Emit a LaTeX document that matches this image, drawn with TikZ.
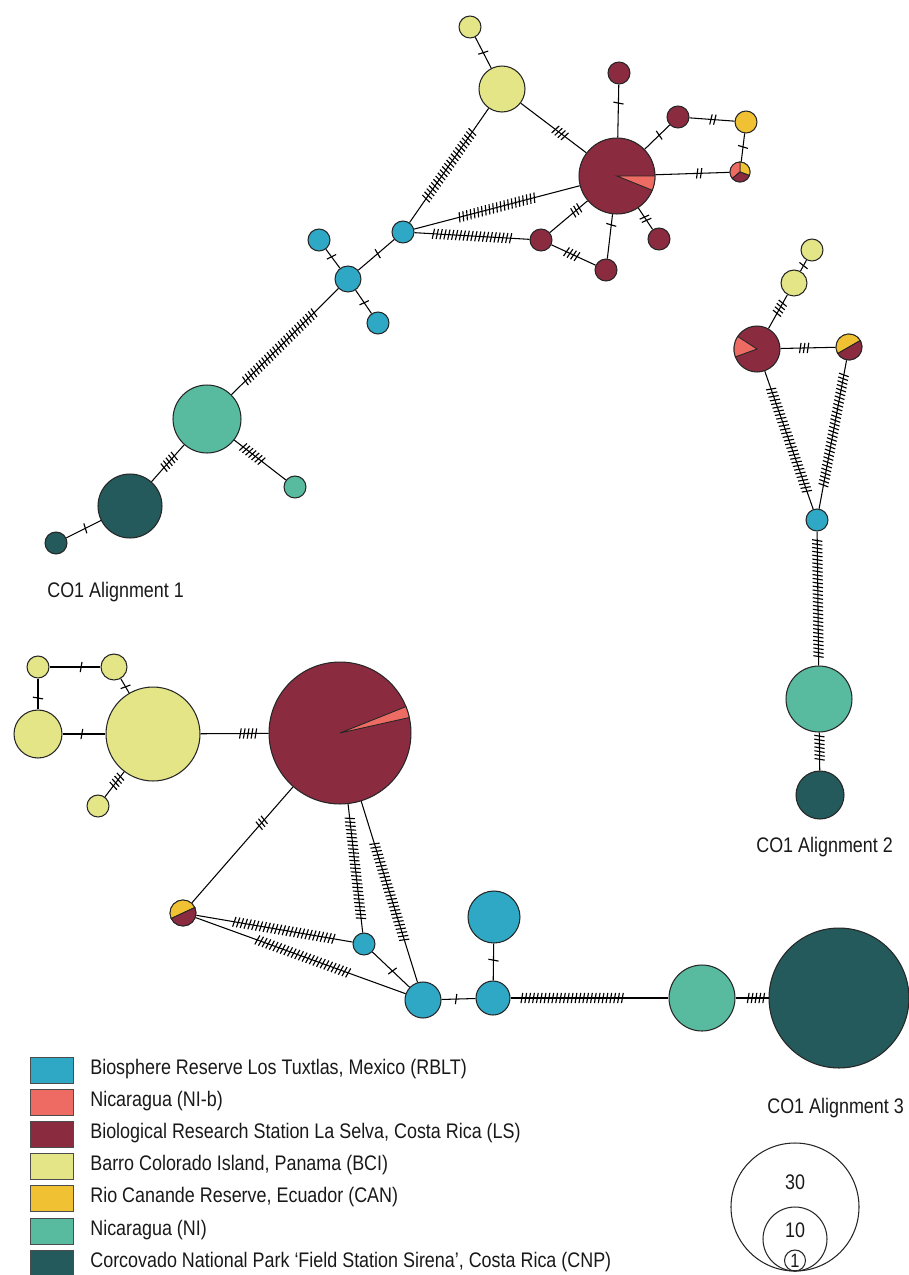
\documentclass[tikz,border=0pt]{standalone}
\usepackage{fontspec}
\setmainfont{Liberation Sans}[FakeStretch=0.85]
\usetikzlibrary{decorations.markings}

\definecolor{rblt}{HTML}{2EA8C4}
\definecolor{nib}{HTML}{EE6B63}
\definecolor{ls}{HTML}{8A2B3F}
\definecolor{bci}{HTML}{E3E587}
\definecolor{can}{HTML}{F0C233}
\definecolor{ni}{HTML}{58BBA0}
\definecolor{cnp}{HTML}{245A5B}

\tikzset{
  hap/.style={circle,draw=black!85,line width=0.6pt,inner sep=0pt,minimum size=#1*0.04cm},
  link/.style={line width=0.6pt},
  mut/.style 2 args={postaction={decorate,decoration={markings,
      mark=at position #2 with {\foreach \k in {1,...,#1}
        \draw[line width=0.65pt] ({(\k-(#1+1)/2)*2.2pt-0.5pt},-2.9pt) -- ++(1pt,5.8pt);}}}},
  tag/.style={font=\fontsize{12}{14}\selectfont,text=black!90,inner sep=0pt,anchor=base west},
  key/.style={draw=black!70,line width=0.5pt,minimum width=0.86cm,minimum height=0.52cm,inner sep=0pt},
}

\newcommand{\hapwedge}[5]{%
  \filldraw[fill=#5,draw=black!85,line width=0.5pt] (#1.center) -- +(#3:#2) arc[start angle=#3,end angle=#4,radius=#2] -- cycle;}

\begin{document}
\begin{tikzpicture}[x=0.02cm,y=0.02cm]
	\useasboundingbox (0,0) rectangle (909,-1275);
	%% CO1 alignment 1
	\node[hap=11,fill=bci] (a1bcit) at (470,-27) {};
	\node[hap=23,fill=bci] (a1bci) at (502,-89) {};
	\node[hap=38,fill=ls] (a1ls) at (617,-176) {};
	\node[hap=11,fill=ls] (a1lst) at (619,-73) {};
	\node[hap=11,fill=ls] (a1lsr) at (678,-117) {};
	\node[hap=11,fill=can] (a1can) at (746,-122) {};
	\node[hap=10,fill=ls] (a1mix) at (740,-172) {};
	\node[hap=11,fill=ls] (a1lsl) at (541,-240) {};
	\node[hap=11,fill=ls] (a1lsb) at (606,-270) {};
	\node[hap=11,fill=ls] (a1lsd) at (659,-239) {};
	\node[hap=11,fill=rblt] (a1rblt) at (403,-232) {};
	\node[hap=11,fill=rblt] (a1rbltl) at (319,-240) {};
	\node[hap=13,fill=rblt] (a1rbltm) at (348,-279) {};
	\node[hap=11,fill=rblt] (a1rbltb) at (378,-323) {};
	\node[hap=34,fill=ni] (a1ni) at (207,-419) {};
	\node[hap=11,fill=ni] (a1nis) at (295,-487) {};
	\node[hap=32,fill=cnp] (a1cnp) at (130,-506) {};
	\node[hap=11,fill=cnp] (a1cnps) at (56,-543) {};
	\hapwedge{a1ls}{38}{-22}{0}{nib}
	\hapwedge{a1mix}{10}{-20}{90}{can}
	\hapwedge{a1mix}{10}{90}{220}{nib}
	\hapwedge{a1mix}{10}{220}{340}{ls}
	%%
	\draw[link,mut={1}{0.5}] (a1bcit) -- (a1bci);
	\draw[link,mut={4}{0.6}] (a1bci) -- (a1ls);
	\draw[link,mut={22}{0.5}] (a1bci) -- (a1rblt);
	\draw[link,mut={21}{0.5}] (a1rblt) -- (a1ls);
	\draw[link,mut={21}{0.5}] (a1rblt) -- (a1lsl);
	\draw[link,mut={1}{0.35}] (a1lst) -- (a1ls);
	\draw[link,mut={1}{0.58}] (a1ls) -- (a1lsr);
	\draw[link,mut={2}{0.52}] (a1lsr) -- (a1can);
	\draw[link,mut={1}{0.48}] (a1can) -- (a1mix);
	\draw[link,mut={2}{0.59}] (a1ls) -- (a1mix);
	\draw[link,mut={3}{0.3}] (a1ls) -- (a1lsl);
	\draw[link,mut={4}{0.46}] (a1lsl) -- (a1lsb);
	\draw[link,mut={1}{0.24}] (a1ls) -- (a1lsb);
	\draw[link,mut={2}{0.5}] (a1ls) -- (a1lsd);
	\draw[link,mut={1}{0.54}] (a1rbltm) -- (a1rblt);
	\draw[link,mut={1}{0.4}] (a1rbltl) -- (a1rbltm);
	\draw[link,mut={1}{0.54}] (a1rbltm) -- (a1rbltb);
	\draw[link,mut={26}{0.55}] (a1rbltm) -- (a1ni);
	\draw[link,mut={7}{0.35}] (a1ni) -- (a1nis);
	\draw[link,mut={5}{0.46}] (a1ni) -- (a1cnp);
	\draw[link,mut={1}{0.45}] (a1cnp) -- (a1cnps);
	\node[tag] (a1lab) at (47,-597) {CO1 Alignment 1};
	%% CO1 alignment 2
	\node[hap=11,fill=bci] (a2bcit) at (812,-250) {};
	\node[hap=13,fill=bci] (a2bci) at (794,-283) {};
	\node[hap=23,fill=ls] (a2ls) at (757,-349) {};
	\node[hap=13,fill=ls] (a2mix) at (849,-347) {};
	\node[hap=11,fill=rblt] (a2rblt) at (817,-520) {};
	\node[hap=33,fill=ni] (a2ni) at (819,-699) {};
	\node[hap=24,fill=cnp] (a2cnp) at (820,-795) {};
	\hapwedge{a2ls}{23}{147}{200}{nib}
	\hapwedge{a2mix}{13}{30}{210}{can}
	\hapwedge{a2mix}{13}{210}{390}{ls}
	%%
	\draw[link,mut={1}{0.5}] (a2bcit) -- (a2bci);
	\draw[link,mut={4}{0.4}] (a2bci) -- (a2ls);
	\draw[link,mut={3}{0.43}] (a2ls) -- (a2mix);
	\draw[link,mut={29}{0.5}] (a2ls) -- (a2rblt);
	\draw[link,mut={30}{0.47}] (a2mix) -- (a2rblt);
	\draw[link,mut={31}{0.5}] (a2rblt) -- (a2ni);
	\draw[link,mut={7}{0.4}] (a2ni) -- (a2cnp);
	\node[tag] (a2lab) at (756,-852) {CO1 Alignment 2};
	%% CO1 alignment 3
	\node[hap=11,fill=bci] (a3bcia) at (38,-667) {};
	\node[hap=13,fill=bci] (a3bcib) at (114,-667) {};
	\node[hap=24,fill=bci] (a3bcic) at (38,-734) {};
	\node[hap=47,fill=bci] (a3bci) at (153,-734) {};
	\node[hap=11,fill=bci] (a3bcis) at (98,-806) {};
	\node[hap=71,fill=ls] (a3ls) at (340,-733) {};
	\node[hap=13,fill=ls] (a3mix) at (183,-913) {};
	\node[hap=11,fill=rblt] (a3rblts) at (364,-944) {};
	\node[hap=18,fill=rblt] (a3rblt) at (423,-1000) {};
	\node[hap=17,fill=rblt] (a3rbltr) at (493,-998) {};
	\node[hap=26,fill=rblt] (a3rbltt) at (494,-917) {};
	\node[hap=33,fill=ni] (a3ni) at (702,-998) {};
	\node[hap=70,fill=cnp] (a3cnp) at (839,-998) {};
	\hapwedge{a3ls}{71}{12.6}{21.8}{nib}
	\hapwedge{a3mix}{13}{25}{205}{can}
	\hapwedge{a3mix}{13}{205}{385}{ls}
	%%
	\draw[link,mut={1}{0.62}] (a3bcia) -- (a3bcib);
	\draw[link,mut={1}{0.63}] (a3bcia) -- (a3bcic);
	\draw[link,mut={1}{0.57}] (a3bcib) -- (a3bci);
	\draw[link,mut={1}{0.45}] (a3bcic) -- (a3bci);
	\draw[link,mut={4}{0.38}] (a3bci) -- (a3bcis);
	\draw[link,mut={5}{0.7}] (a3bci) -- (a3ls);
	\draw[link,mut={3}{0.31}] (a3ls) -- (a3mix);
	\draw[link,mut={27}{0.5}] (a3ls) -- (a3rblts);
	\draw[link,mut={27}{0.5}] (a3ls) -- (a3rblt);
	\draw[link,mut={27}{0.56}] (a3mix) -- (a3rblts);
	\draw[link,mut={26}{0.51}] (a3mix) -- (a3rblt);
	\draw[link,mut={1}{0.54}] (a3rblts) -- (a3rblt);
	\draw[link,mut={1}{0.43}] (a3rblt) -- (a3rbltr);
	\draw[link,mut={1}{0.55}] (a3rbltr) -- (a3rbltt);
	\draw[link,mut={27}{0.39}] (a3rbltr) -- (a3ni);
	\draw[link,mut={5}{0.62}] (a3ni) -- (a3cnp);
	\node[tag] (a3lab) at (767,-1113) {CO1 Alignment 3};
	%% size scale
	\node[circle,draw=black!85,line width=0.6pt,inner sep=0pt,minimum size=128*0.02cm] (sc30) at (795,-1207) {};
	\node[circle,draw=black!85,line width=0.6pt,inner sep=0pt,minimum size=64*0.02cm] (sc10) at (795,-1239) {};
	\node[circle,draw=black!85,line width=0.6pt,inner sep=0pt,minimum size=21*0.02cm] (sc1) at (795,-1260.5) {};
	\node[tag,anchor=center] (sc30lab) at (795,-1182) {30};
	\node[tag,anchor=center] (sc10lab) at (795,-1230) {10};
	\node[tag,anchor=center,font=\fontsize{11}{12}\selectfont] (sc1lab) at (795,-1261) {1};
	%% legend
	\foreach \i/\c/\t in {0/rblt/{Biosphere Reserve Los Tuxtlas, Mexico (RBLT)},
	    1/nib/{Nicaragua (NI-b)},
	    2/ls/{Biological Research Station La Selva, Costa Rica (LS)},
	    3/bci/{Barro Colorado Island, Panama (BCI)},
	    4/can/{Rio Canande Reserve, Ecuador (CAN)},
	    5/ni/{Nicaragua (NI)},
	    6/cnp/{Corcovado National Park ‘Field Station Sirena’, Costa Rica (CNP)}}
	{
		\node[key,fill=\c] (key\i) at (51.5,-1070-32.2*\i) {};
		\node[tag] (txt\i) at (90,-1074-32.2*\i) {\t};
	}
\end{tikzpicture}
\end{document}
